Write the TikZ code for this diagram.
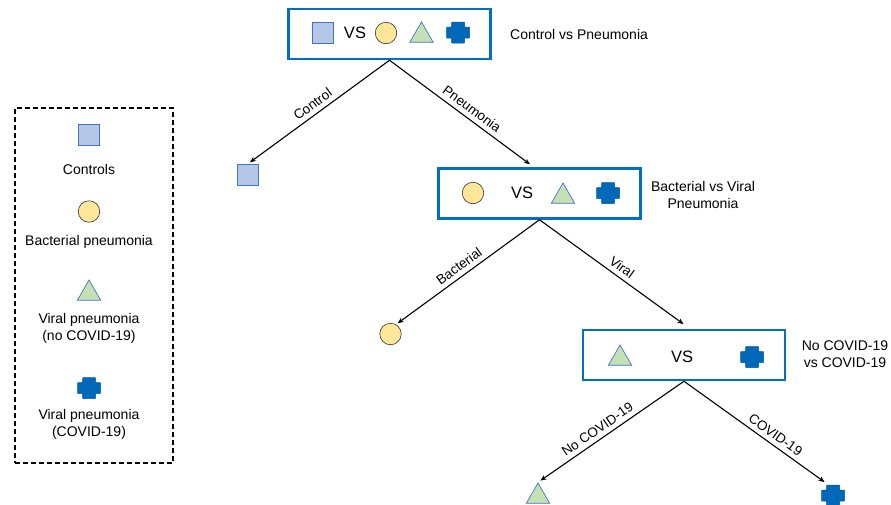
\documentclass[tikz,border=0pt]{standalone}
\usepackage{fontspec}
\setmainfont{Liberation Sans}
\usetikzlibrary{arrows.meta,shapes.geometric,calc}
\definecolor{boxblue}{HTML}{0070C0}
\definecolor{sqfill}{HTML}{B4C7E7}
\definecolor{sqedge}{HTML}{4472C4}
\definecolor{circfill}{HTML}{FFE699}
\definecolor{trifill}{HTML}{C5E0B4}
\definecolor{crossfill}{HTML}{0068B8}
\definecolor{crossedge}{HTML}{005A9E}
\begin{document}
\begin{tikzpicture}[x=1pt,y=-1pt,
 txt/.style={font=\fontsize{14}{17}\selectfont, inner sep=0pt, align=center},
 vs/.style={font=\fontsize{16.5}{18}\selectfont, inner sep=0pt},
 cmpbox/.style={draw=boxblue, line width=2.5pt, minimum width=202pt, minimum height=50pt, inner sep=0pt},
 sqshape/.style={draw=sqedge, fill=sqfill, line width=0.8pt, minimum size=21pt, inner sep=0pt},
 circshape/.style={circle, draw=black!80, fill=circfill, line width=0.6pt, minimum size=21.5pt, inner sep=0pt},
 trishape/.style={regular polygon, regular polygon sides=3, draw=sqedge, fill=trifill, line width=0.7pt, minimum size=27pt, inner sep=0pt},
 crossshape/.style={minimum width=25pt, minimum height=23pt, inner sep=0pt,
   path picture={\fill[crossfill, draw=crossedge, line width=0.5pt, rounded corners=0.6pt,
     shift={(path picture bounding box.center)}]
     (-6.5,-10.5) -- (6.5,-10.5) -- (6.5,-5.5) -- (11.5,-5.5) -- (11.5,5.5) -- (6.5,5.5) -- (6.5,10.5)
     -- (-6.5,10.5) -- (-6.5,5.5) -- (-11.5,5.5) -- (-11.5,-5.5) -- (-6.5,-5.5) -- cycle;}},
 conn/.style={line width=1.1pt, -{Stealth[length=6pt,width=5pt]}},
 lbl/.style={font=\fontsize{13.5}{16}\selectfont, sloped, above, inner sep=4.5pt}
]
\useasboundingbox (0,0) rectangle (891,504);

% legend
\node[draw, dash pattern=on 5pt off 3pt, line width=2pt, minimum width=158pt, minimum height=355pt, inner sep=0pt] (leg) at (93.5,285) {};
\node[sqshape] (lsq) at (89,135) {};
\node[txt] (lt1) at (89,169) {Controls};
\node[circshape] (lci) at (89,211.5) {};
\node[txt] (lt2) at (89,242) {Bacterial pneumonia};
\node[trishape] (ltr) at (89,293.5) {};
\node[txt] (lt3) at (89,328.5) {Viral pneumonia\\(no COVID-19)};
\node[crossshape] (lcr) at (89,388) {};
\node[txt] (lt4) at (89,424) {Viral pneumonia\\(COVID-19)};

% box 1
\node[cmpbox] (b1) at (389.5,34) {};
\node[sqshape] (sq1) at (322.5,32.5) {};
\node[vs] (vs1) at (355,33) {VS};
\node[circshape] (ci1) at (386,33) {};
\node[trishape] (tr1) at (421.5,35.5) {};
\node[crossshape] (cr1) at (458,32.5) {};
\node[txt, anchor=west] (t1) at (510,34) {Control vs Pneumonia};

% box 2
\node[cmpbox] (b2) at (539.5,193.5) {};
\node[circshape] (ci2) at (473,193) {};
\node[vs] (vs2) at (522,193) {VS};
\node[trishape] (tr2) at (563,196.5) {};
\node[crossshape] (cr2) at (608,193) {};
\node[txt] (t2) at (703,194.5) {Bacterial vs Viral\\Pneumonia};

% box 3
\node[cmpbox] (b3) at (684,355) {};
\node[trishape] (tr3) at (620,358.5) {};
\node[vs] (vs3) at (682,357) {VS};
\node[crossshape] (cr3) at (752,357) {};
\node[txt] (t3) at (845,354) {No COVID-19\\vs COVID-19};

% leaves
\node[sqshape] (sq4) at (247.5,175) {};
\node[circshape] (ci4) at (390.5,334) {};
\node[trishape] (tr4) at (538,496.5) {};
\node[crossshape] (cr4) at (833,495.5) {};

% connectors
\draw[conn, shorten >=3pt] (b1.south) -- (sq4.north) node[lbl, pos=0.5] {Control};
\draw[conn, shorten >=5pt] (b1.south) -- ($(b2.north)+(-5.5,0)$) node[lbl, pos=0.53] {Pneumonia};
\draw[conn, shorten >=2pt] (b2.south) -- (ci4.60) node[lbl, pos=0.52] {Bacterial};
\draw[conn, shorten >=8pt] (b2.south) -- ($(b3.north)+(6,0)$) node[lbl, pos=0.51] {Viral};
\draw[conn, shorten >=3pt] (b3.south) -- (tr4.north) node[lbl, pos=0.555] {No COVID-19};
\draw[conn, shorten >=3pt] (b3.south) -- ($(cr4.north)+(-6,0)$) node[lbl, pos=0.6] {COVID-19};
\end{tikzpicture}
\end{document}
